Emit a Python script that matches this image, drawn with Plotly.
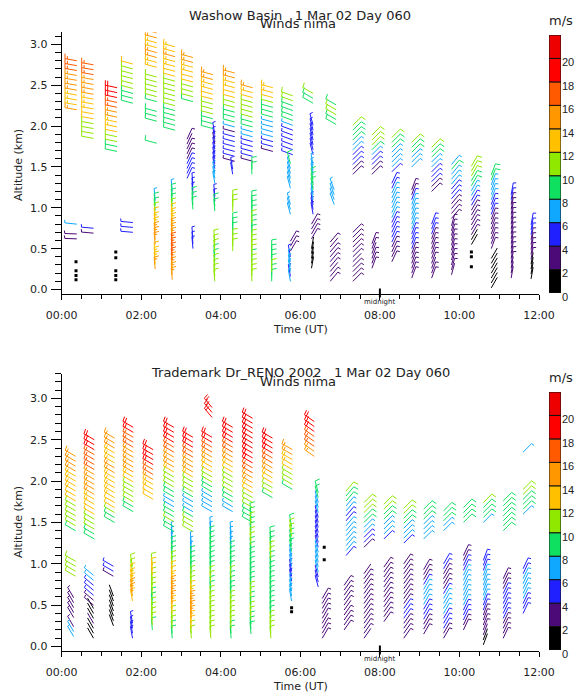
import math
import plotly.graph_objects as go

W, H = 575, 692

# ---------------- colour scale (m/s bins of 2) ----------------
BIN_COLORS = ["#000000", "#4b0a78", "#2020ff", "#10a8ff", "#10e060",
              "#90e800", "#ffc000", "#ff9800", "#ff5a00", "#ff0000", "#ee0000"]
CB_VALUES = [0, 2, 4, 6, 8, 10, 12, 14, 16, 18, 20]
CB_LABELS = ["0", "2", "4", "6", "8", "10", "12", "14", "16", "18", "20"]

X_TICK_VALS = [0, 2, 4, 6, 8, 10, 12]
X_TICK_TEXT = ["00:00", "02:00", "04:00", "06:00", "08:00", "10:00", "12:00"]
Y_TICK_VALS = [0.0, 0.5, 1.0, 1.5, 2.0, 2.5, 3.0]
Y_TICK_TEXT = ["0.0", "0.5", "1.0", "1.5", "2.0", "2.5", "3.0"]

GATE_TOP = 0.06   # km between range gates
GATE_BOT = 0.06

# (time h UT, lowest gate km, speeds m/s bottom->top, direction deg)
TOP_SEGMENTS = [
    (0.38, 2.20, [15, 13, 13, 13, 14, 14, 15, 15, 16, 17, 17], 280),
    (0.38, 0.62, [3, 3], 272),
    (0.38, 0.80, [7], 276),
    (0.80, 1.85, [11, 10, 11, 11, 12, 12, 13, 13, 13, 14, 14, 15, 15, 16, 17, 17], 280),
    (0.80, 0.69, [3, 5], 275),
    (1.39, 1.69, [9, 9, 10, 11, 12, 13, 13, 14, 15, 16, 17, 18, 19, 19], 282),
    (1.79, 2.28, [9, 9, 9, 10, 10, 10, 11, 11, 12], 285),
    (1.79, 0.70, [4, 5, 5], 275),
    (2.39, 1.79, [9], 285),
    (2.39, 2.06, [9, 9, 9], 285),
    (2.39, 2.30, [9, 10, 10, 10, 11, 11], 285),
    (2.39, 2.72, [13, 13, 14, 14, 13, 13, 14, 14, 15], 285),
    (2.35, 0.25, [14, 13, 13, 12], 355),
    (2.35, 0.55, [14, 15, 14, 13, 13, 12, 10, 9, 9, 7], 355),
    (2.85, 1.95, [8, 9, 9, 9, 9, 10, 10, 10, 11, 11, 11, 12, 12, 13, 13, 14, 13, 13], 285),
    (2.78, 0.12, [15, 15, 14, 15, 16, 17, 17, 16, 15, 15, 14, 13, 13, 12, 10, 9, 9, 8, 6], 355),
    (3.30, 2.30, [9, 10, 10, 11, 12, 12, 13, 13, 14, 15], 285),
    (3.15, 1.36, [5, 5, 4, 4, 3, 3, 3, 2, 3], 25),
    (3.30, 0.98, [9, 9, 8, 5, 5, 5], 355),
    (3.30, 0.50, [5, 5, 4], 355),
    (3.80, 1.97, [9, 9, 9, 10, 10, 11, 12, 12, 13, 13, 14, 15], 285),
    (3.85, 1.30, [7, 6, 6, 5, 5, 4, 4, 4, 3, 4, 5], 350),
    (3.85, 0.96, [9, 9, 5, 4], 355),
    (3.85, 0.10, [10, 11, 10, 10, 9, 9, 10, 11, 10], 355),
    (4.35, 1.57, [3, 4, 4, 5, 4, 5, 3, 7, 9, 9, 9, 10, 10, 12, 12, 13, 13, 14, 15], 285),
    (4.30, 1.41, [5, 4], 350),
    (4.30, 0.95, [10, 11, 10], 0),
    (4.30, 0.67, [9, 9, 9], 0),
    (4.30, 0.47, [11, 11, 10], 0),
    (4.80, 1.57, [3, 4, 5, 4, 5, 7, 7, 9, 9, 10, 10, 11, 11, 12, 13, 15], 285),
    (4.78, 0.10, [10, 11, 11, 10, 9, 10, 11, 11, 10, 9, 9, 9, 10, 9, 9, 8, 9], 0),
    (4.78, 1.41, [9, 8], 0),
    (5.31, 1.69, [3, 4, 5, 7, 7, 6, 7, 9, 9, 9, 11, 12, 13, 13], 285),
    (5.28, 0.10, [9, 9, 10, 9, 9, 9, 9], 0),
    (5.81, 1.65, [5, 5, 4, 5, 5, 4, 6, 8, 9, 9, 9, 10, 11], 290),
    (5.75, 1.24, [7, 7, 6, 7, 7, 8], 345),
    (5.75, 0.92, [7, 7, 6], 345),
    (5.75, 0.47, [3, 3, 3], 30),
    (5.75, 0.10, [6, 5, 7, 7, 6, 5], 350),
    (6.32, 2.28, [9, 9, 10], 300),
    (6.32, 1.65, [5, 4, 5, 5, 4, 5, 5], 345),
    (6.32, 0.92, [5, 4, 5, 6, 7, 9, 8, 9, 7, 7, 6], 350),
    (6.28, 0.62, [3, 3, 3, 3], 30),
    (6.28, 0.26, [1, 1, 1, 1, 1], 10),
    (6.90, 2.02, [9, 9, 10, 10, 9], 300),
    (6.85, 1.04, [7, 7, 6, 7], 340),
    (6.75, 0.10, [3, 3, 2, 3, 3, 3, 3, 2, 3], 40),
    (7.32, 1.41, [3, 3, 4, 5, 5, 7, 7, 9, 9, 9, 10], 45),
    (7.32, 0.10, [3, 3, 3, 3, 2, 3, 3, 3, 3, 3, 3], 45),
    (7.80, 1.41, [3, 3, 4, 5, 7, 9, 10, 11, 10], 45),
    (7.80, 0.26, [3, 3, 3, 2, 3, 3], 20),
    (8.30, 1.44, [5, 6, 7, 7, 7, 9, 9, 10], 45),
    (8.30, 0.34, [3, 3, 3, 3, 4, 5, 5, 5, 5, 6, 7, 7, 7, 7, 6, 5, 4], 25),
    (8.80, 1.50, [7, 7, 7, 9, 9, 11], 45),
    (8.80, 0.14, [3, 3, 3, 3, 3, 3, 5, 5, 5, 5, 7, 7, 7, 7, 6, 7, 5, 3, 3], 20),
    (9.30, 1.20, [3, 3, 4, 5, 5, 7, 7, 9, 9, 10], 45),
    (9.30, 0.14, [3, 3, 2, 3, 3, 3, 3, 3, 3, 4, 5, 5], 20),
    (9.80, 0.87, [3, 3, 3, 3, 4, 5, 5, 6, 7, 7, 9, 7], 40),
    (9.80, 0.18, [2, 3, 3, 3, 3, 3, 3, 3, 3, 3, 3], 15),
    (10.30, 0.55, [1, 1, 3, 3, 3, 3, 3, 3, 5, 5, 7, 7, 9, 9, 10, 10, 11], 30),
    (10.80, 0.50, [3, 3, 3, 3, 3, 3, 3, 5, 5, 5, 7, 7, 7, 7, 9, 9], 20),
    (10.80, 0.02, [1, 1, 1, 1, 1, 1, 1], 30),
    (11.30, 0.14, [2, 2, 2, 3, 3, 3, 3, 3, 3, 3, 3, 3, 3, 3, 3, 3, 4, 5], 10),
    (11.80, 0.13, [1, 1, 1, 1, 3, 3, 3, 3, 3, 5, 5, 5], 10),
]
TOP_CALM_T = [0.36, 0.36, 0.36, 0.36, 1.36, 1.36, 1.36, 1.36, 1.36, 10.3, 10.3, 10.3]
TOP_CALM_Z = [0.12, 0.17, 0.23, 0.34, 0.12, 0.17, 0.23, 0.39, 0.46, 0.28, 0.40, 0.46]

BOT_SEGMENTS = [
    (0.35, 1.40, [9, 10, 10, 11, 11, 11, 12, 12, 13, 13, 13, 13, 14, 14, 15, 15], 300),
    (0.35, 0.85, [10, 11, 11, 10], 300),
    (0.30, 0.35, [3, 3, 3, 3, 3], 330),
    (0.30, 0.12, [6, 7, 3], 330),
    (0.82, 1.30, [9, 9, 10, 10, 11, 12, 12, 13, 13, 14, 14, 15, 15, 15, 16, 16, 17, 17, 18, 19, 19], 300),
    (0.80, 0.50, [3, 3, 4, 5, 5, 7, 7], 310),
    (0.80, 0.10, [1, 1, 1, 2, 1, 1, 1], 330),
    (1.33, 1.50, [9, 9, 10, 12, 12, 13, 13, 13, 13, 13, 14, 14, 13, 13, 13, 14, 14, 15], 300),
    (1.30, 0.85, [3, 4, 5], 300),
    (1.30, 0.25, [1, 1, 1, 1, 1, 1, 1], 340),
    (1.80, 1.63, [9, 9, 10, 10, 10, 11, 12, 13, 14, 14, 15, 15, 15, 16, 16, 17, 18, 19], 300),
    (1.78, 0.55, [13, 14, 14, 13, 13, 12, 11, 10], 350),
    (1.78, 0.10, [5, 5, 4, 5], 350),
    (2.30, 1.78, [12, 12, 13, 13, 14, 16, 17, 18, 18, 19, 19], 300),
    (2.28, 0.20, [9, 10, 10, 11, 10, 9, 9, 10, 10, 11, 11, 12, 12, 11], 355),
    (2.82, 1.39, [9, 9, 10, 9, 8, 7, 7, 9, 9, 10, 10, 11, 13, 14, 15, 15, 16, 17, 18, 19, 19, 20], 300),
    (2.78, 0.10, [9, 9, 10, 10, 11, 12, 13, 14, 15, 15, 14, 13, 12, 12, 11, 10, 9, 9, 8, 7, 7, 6], 355),
    (3.30, 1.39, [10, 11, 11, 9, 7, 7, 7, 9, 10, 11, 11, 13, 14, 15, 15, 16, 17, 18, 19, 19], 300),
    (3.26, 0.10, [10, 11, 12, 13, 14, 15, 15, 14, 13, 12, 11, 10, 10, 9, 9, 9, 8, 7, 6, 6], 355),
    (3.78, 1.63, [7, 7, 7, 6, 9, 9, 10, 11, 12, 13, 14, 15, 16, 17, 18, 19], 300),
    (3.78, 2.77, [19, 20, 20], 320),
    (3.75, 0.10, [11, 11, 10, 10, 10, 11, 11, 10, 10, 9, 9, 10, 10, 9, 9, 9, 8, 8, 8, 9, 8, 7, 7], 355),
    (4.30, 1.63, [7, 7, 9, 9, 10, 10, 11, 11, 12, 13, 14, 15, 16, 17, 18, 19, 19, 20], 300),
    (4.26, 0.10, [9, 9, 10, 10, 11, 11, 10, 10, 9, 9, 9, 9, 10, 9, 9, 8, 8, 8, 7, 7, 7, 6], 355),
    (4.80, 1.50, [9, 9, 9, 10, 10, 11, 12, 13, 14, 15, 16, 17, 18, 19, 19, 20, 20, 20, 21, 21, 20, 20], 300),
    (4.76, 0.15, [9, 9, 9, 10, 10, 9, 9, 10, 10, 9, 9, 9, 9, 8, 8, 9, 9, 9, 10, 10, 9, 9, 10, 9, 9], 355),
    (5.30, 1.80, [9, 10, 11, 12, 13, 14, 15, 16, 17, 18, 19, 19, 20], 300),
    (5.26, 0.10, [10, 11, 10, 10, 9, 9, 9, 8, 9, 9, 9, 8, 8, 9, 9, 9, 10, 10, 9, 9, 9], 355),
    (5.80, 1.90, [9, 10, 10, 11, 12, 13, 13, 14, 15], 300),
    (5.78, 0.55, [7, 6, 7, 7, 5, 5, 5, 6, 7, 7, 9, 9, 9, 10, 10, 9], 350),
    (6.35, 2.30, [14, 15, 16, 17, 17, 18, 18, 19], 305),
    (6.45, 0.72, [5, 5, 5, 6, 7, 7, 7, 6, 5, 5, 5, 5, 4, 5, 5, 6, 7, 7, 9, 9], 345),
    (6.55, 0.10, [3, 3, 3, 2, 3, 3, 3, 3, 3], 30),
    (7.15, 1.10, [5, 6, 7, 7, 7, 7, 6, 5, 5, 7, 7, 9, 9, 10], 40),
    (7.10, 0.20, [3, 3, 3, 3, 2, 3, 3, 3, 3, 3], 35),
    (7.60, 1.20, [3, 5, 5, 7, 7, 9, 9, 10, 10, 10], 45),
    (7.60, 0.10, [2, 3, 3, 3, 3, 3, 3, 3, 3, 3, 3, 3, 3, 2], 35),
    (8.10, 1.30, [5, 7, 7, 7, 9, 9, 10, 10], 45),
    (8.10, 0.30, [3, 3, 3, 3, 3, 3, 3, 3, 3, 3, 3, 3], 35),
    (8.60, 1.25, [5, 6, 7, 7, 9, 9, 10, 10], 45),
    (8.60, 0.10, [3, 3, 3, 3, 4, 5, 5, 3, 3, 3, 3, 3, 3, 3, 3, 3], 35),
    (9.10, 1.30, [6, 7, 7, 7, 9, 9, 9], 45),
    (9.10, 0.15, [3, 3, 3, 5, 5, 5, 6, 7, 7, 7, 5, 3, 3, 3], 30),
    (9.60, 1.40, [7, 7, 9, 9, 9], 45),
    (9.60, 0.10, [3, 3, 4, 5, 5, 6, 7, 7, 6, 5, 3, 3, 3, 3, 5, 5], 30),
    (10.10, 1.50, [9, 9, 9, 9], 45),
    (10.10, 0.20, [3, 3, 5, 5, 5, 6, 7, 7, 7, 7, 7, 6, 5, 5, 3, 3], 25),
    (10.60, 1.50, [7, 9, 9, 9, 10], 45),
    (10.60, 0.02, [1, 1, 2, 3, 3, 3, 3, 5, 5, 7, 7, 7, 7, 6, 6, 5, 5, 5], 20),
    (11.10, 1.40, [9, 9, 9, 9, 9, 9, 9], 45),
    (11.10, 0.10, [3, 3, 3, 3, 4, 5, 5, 5, 5, 5, 3, 3, 3], 25),
    (11.60, 1.60, [7, 9, 9, 9, 10, 10], 45),
    (11.60, 2.35, [7], 45),
    (11.60, 0.40, [5, 5, 5, 6, 7, 7, 7, 7, 5, 5], 25),
]
BOT_CALM_T = [5.78, 5.78, 6.6, 6.6]
BOT_CALM_Z = [0.42, 0.47, 1.05, 1.20]

# ---------------- page geometry (pixels) ----------------
PLOT_L, PLOT_R = 61.7, 539.0
X_RANGE = [0, 12]
PX_PER_H = (PLOT_R - PLOT_L) / (X_RANGE[1] - X_RANGE[0])

TOP_Z0_PX, TOP_PX_KM, TOP_RANGE = 289.5, 81.7, [-0.05, 3.15]
BOT_Z0_PX, BOT_PX_KM, BOT_RANGE = 646.5, 82.7, [-0.05, 3.30]

CB_L, CB_R = 549.0, 561.0
CB_TOP = (35.0, 293.0)
CB_BOT = (392.0, 650.0)

STAFF_PX = 12.0
FEATHER_PX = 5.0
FEATHER_GAP = 2.4

FONT = "DejaVu Sans"
NARROW = "Liberation Sans"
TXT = "#222222"


def ydom(top_px, bot_px):
    return [1 - bot_px / H, 1 - top_px / H]


def color_bin(s):
    return max(0, min(len(BIN_COLORS) - 1, int(s // 2)))


def barbs(segments, gate, px_km):
    out = {k: ([], []) for k in range(len(BIN_COLORS))}
    for t, z0, speeds, d in segments:
        for i, s in enumerate(speeds):
            z = z0 + i * gate
            a = math.radians(d)
            ux, uy = math.sin(a), math.cos(a)
            fx, fy = math.sin(a + math.radians(80)), math.cos(a + math.radians(80))
            xs, ys = out[color_bin(s)]
            tipx, tipy = ux * STAFF_PX, uy * STAFF_PX
            xs += [t, t + tipx / PX_PER_H, None]
            ys += [z, z + tipy / px_km, None]
            n5 = int(round(s / 5.0))
            nfull, half = min(n5 // 2, 3), n5 % 2
            flist = [FEATHER_PX] * nfull + ([FEATHER_PX * 0.6] if half else [])
            for k, flen in enumerate(flist):
                bx = tipx - ux * FEATHER_GAP * k
                by = tipy - uy * FEATHER_GAP * k
                xs += [t + bx / PX_PER_H, t + (bx + fx * flen) / PX_PER_H, None]
                ys += [z + by / px_km, z + (by + fy * flen) / px_km, None]
    return out


fig = go.Figure()

panels = [
    ("x", "y", TOP_SEGMENTS, GATE_TOP, TOP_PX_KM, TOP_CALM_T, TOP_CALM_Z),
    ("x2", "y2", BOT_SEGMENTS, GATE_BOT, BOT_PX_KM, BOT_CALM_T, BOT_CALM_Z),
]
for xa, ya, segs, gate, pxkm, ct, cz in panels:
    lines = barbs(segs, gate, pxkm)
    for k, (xs, ys) in lines.items():
        if not xs:
            continue
        fig.add_trace(go.Scatter(x=xs, y=ys, mode="lines", xaxis=xa, yaxis=ya,
                                 line=dict(color=BIN_COLORS[k], width=1),
                                 hoverinfo="skip", showlegend=False))
    fig.add_trace(go.Scatter(x=ct, y=cz, mode="markers", xaxis=xa, yaxis=ya,
                             marker=dict(symbol="square", size=3, color="black"),
                             hoverinfo="skip", showlegend=False))

# colour bars drawn on their own small axes
for xa, ya in (("x3", "y3"), ("x4", "y4")):
    for k, v in enumerate(CB_VALUES):
        fig.add_shape(type="rect", xref=xa, yref=ya, x0=0, x1=1, y0=v, y1=v + 2,
                      fillcolor=BIN_COLORS[k], line=dict(color="#111111", width=1))


def time_axis(dom_y_anchor):
    return dict(range=X_RANGE, domain=[PLOT_L / W, PLOT_R / W], anchor=dom_y_anchor,
                automargin=False,
                tickvals=X_TICK_VALS, ticktext=X_TICK_TEXT, ticks="outside",
                ticklen=5, tickcolor="black", showline=True, linecolor="black",
                linewidth=1, showgrid=False, zeroline=False, ticklabelstandoff=6,
                tickfont=dict(family=FONT, size=11, color=TXT),
                minor=dict(dtick=0.5, tick0=0, ticks="outside", ticklen=4,
                           tickcolor="black", showgrid=False))


def alt_axis(rng, z0px, pxkm, xanchor):
    bot = z0px - rng[0] * pxkm
    top = z0px - rng[1] * pxkm
    return dict(range=rng, domain=ydom(top, bot), anchor=xanchor, automargin=False,
                tickvals=Y_TICK_VALS, ticktext=Y_TICK_TEXT, ticks="outside",
                ticklen=10, tickcolor="black", showline=True, linecolor="black",
                linewidth=1, showgrid=False, zeroline=False, ticklabelstandoff=1,
                tickfont=dict(family=FONT, size=11, color=TXT),
                minor=dict(dtick=0.1, tick0=0, ticks="outside", ticklen=6,
                           tickcolor="black", showgrid=False))


def cb_axes(px, name):
    xa = dict(domain=[CB_L / W, CB_R / W], range=[0, 1], visible=False,
              fixedrange=True, automargin=False, anchor="y" + name)
    ya = dict(domain=ydom(px[0], px[1]), range=[0, 22], side="right", automargin=False,
              anchor="x" + name,
              tickvals=CB_VALUES, ticktext=CB_LABELS, ticks="", showline=False,
              showgrid=False, zeroline=False, ticklabelshift=4, ticklabelstandoff=0,
              tickfont=dict(family=NARROW, size=11, color=TXT))
    return xa, ya


x3, y3 = cb_axes(CB_TOP, "3")
x4, y4 = cb_axes(CB_BOT, "4")

fig.update_layout(
    template="none",
    width=W, height=H, margin=dict(l=0, r=0, t=0, b=0, pad=0), autosize=False,
    paper_bgcolor="white", plot_bgcolor="white", showlegend=False,
    xaxis=time_axis("y"), yaxis=alt_axis(TOP_RANGE, TOP_Z0_PX, TOP_PX_KM, "x"),
    xaxis2=time_axis("y2"), yaxis2=alt_axis(BOT_RANGE, BOT_Z0_PX, BOT_PX_KM, "x2"),
    xaxis3=x3, yaxis3=y3, xaxis4=x4, yaxis4=y4,
)


def py(px):
    return 1 - px / H


def note(text, xpx, ypx, size=11, angle=0, xref="paper", xval=None, family=FONT):
    fig.add_annotation(text=text, x=(xpx / W if xval is None else xval),
                       xref=xref, y=py(ypx), yref="paper",
                       showarrow=False, textangle=angle, xanchor="center", yanchor="middle",
                       font=dict(family=family, size=size, color=TXT))


for off, title in ((0, "Washow Basin   1 Mar 02 Day 060"),
                   (357, "Trademark Dr_RENO 2002   1 Mar 02 Day 060")):
    note(title, 300, 15 + off, size=13)
    note("Winds nima", 298, 24 + off, size=13)
    note("m/s", 561, 20 + off, size=13)
    note("Altitude (km)", 18, 165 + off, size=11, angle=-90)
    note("Time (UT)", 300, 329 + off, size=11)
    note("midnight", 0, 302 + off, size=7, xref="x", xval=8)

for xa, (z0px, pxkm) in (("x", (TOP_Z0_PX, TOP_PX_KM)), ("x2", (BOT_Z0_PX, BOT_PX_KM))):
    fig.add_shape(type="line", xref=xa, yref="paper", x0=8, x1=8,
                  y0=py(z0px - 1), y1=py(z0px + 8), line=dict(color="black", width=2))

fig.write_html("out.html", config={"displayModeBar": False, "staticPlot": True},
               post_script="document.body.style.margin='0px';"
                           "document.body.style.overflow='hidden';")
